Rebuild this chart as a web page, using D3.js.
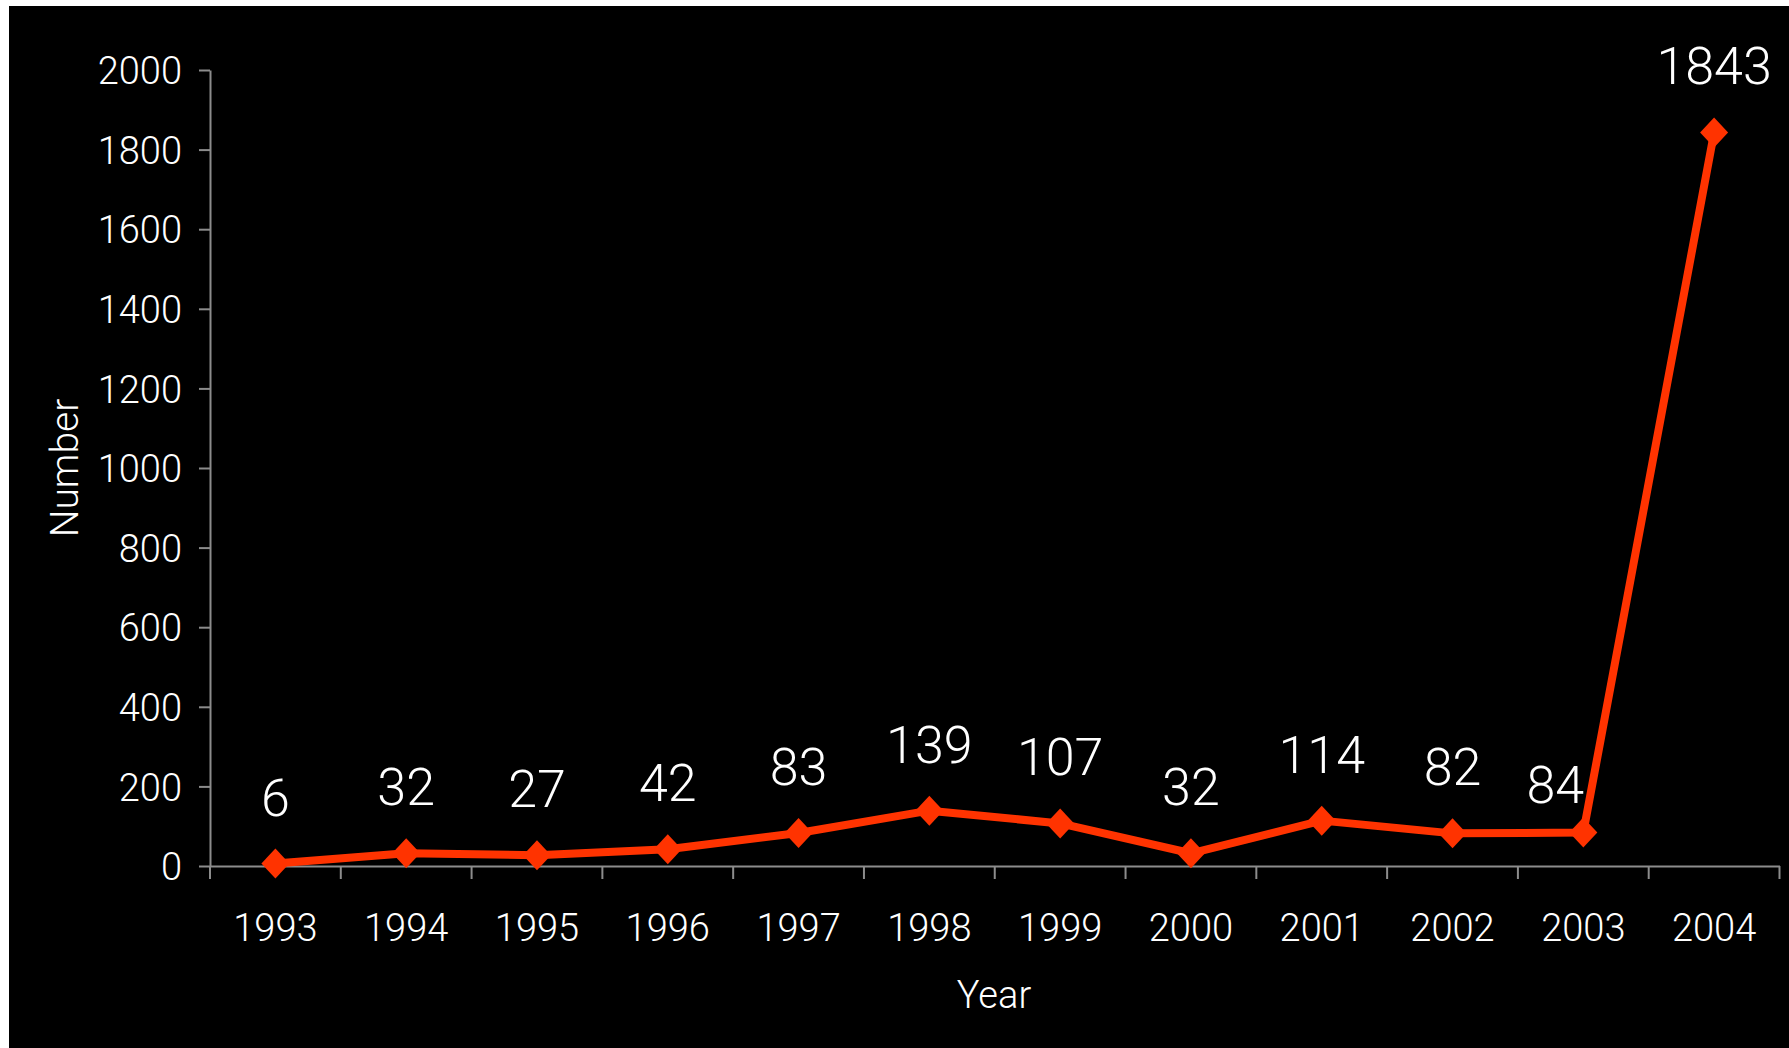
<!DOCTYPE html>
<html>
<head>
<meta charset="utf-8">
<script src="https://cdn.jsdelivr.net/npm/d3@7"></script>
<style>
html,body{margin:0;padding:0;background:#fff;}
svg{display:block;}
text{font-family:Roboto,"Open Sans",sans-serif;font-weight:300;fill:#fff;}
</style>
</head>
<body>
<svg id="chart" width="1789" height="1048"></svg>
<script>
const years = ["1993","1994","1995","1996","1997","1998","1999","2000","2001","2002","2003","2004"];
const values = [6,32,27,42,83,139,107,32,114,82,84,1843];
const yTicks = [0,200,400,600,800,1000,1200,1400,1600,1800,2000];

const FONT = "Roboto";
const svg = d3.select("#chart");
svg.append("rect").attr("x",9).attr("y",6).attr("width",1780).attr("height",1042).attr("fill","#000");

const x = d3.scaleBand().domain(years).range([210,1779.5]);
const y = d3.scaleLinear().domain([0,2000]).range([866,70]);

// y axis
const ya = svg.append("g").attr("transform","translate(210,0)")
  .call(d3.axisLeft(y).tickValues(yTicks).tickFormat(d3.format("d")).tickSize(11).tickSizeOuter(0).tickPadding(17));
ya.select(".domain").attr("stroke","#8c8c8c").attr("stroke-width",2);
ya.selectAll(".tick line").attr("stroke","#8c8c8c").attr("stroke-width",2);
ya.selectAll(".tick text").attr("font-size",38).attr("fill","#fff").attr("font-family",FONT).attr("font-weight",300).attr("dy","0.36em");

// x axis
const xa = svg.append("g").attr("transform","translate(0,866)")
  .call(d3.axisBottom(x).tickSize(0).tickPadding(48));
xa.select(".domain").attr("stroke","#8c8c8c").attr("stroke-width",2);
xa.selectAll(".tick text").attr("font-size",38).attr("fill","#fff").attr("font-family",FONT).attr("font-weight",300);
// category boundary ticks
const bounds = years.map(d=>x(d)).concat([x.range()[1]]);
xa.selectAll(".btick").data(bounds).enter().append("line")
  .attr("x1",d=>d).attr("x2",d=>d).attr("y1",0).attr("y2",13)
  .attr("stroke","#8c8c8c").attr("stroke-width",2);

// line
const cx = d => x(d) + x.bandwidth()/2;
const line = d3.line().x((d,i)=>cx(years[i])).y(d=>y(d));
svg.append("path").datum(values).attr("d",line)
  .attr("fill","none").attr("stroke","#ff3300").attr("stroke-width",8).attr("stroke-linejoin","round");

// markers
svg.selectAll(".mk").data(values).enter().append("path")
  .attr("d","M0,-15L14,0L0,15L-14,0Z")
  .attr("transform",(d,i)=>`translate(${cx(years[i])},${y(d)})`)
  .attr("fill","#ff3300");

// labels (label just before the steep jump is nudged aside, as in the original)
const steep = (i) => i < values.length-1 && (values[i+1] - values[i]) > 1000;
svg.selectAll(".lbl").data(values).enter().append("text")
  .attr("x",(d,i)=>cx(years[i]) - (steep(i) ? 28 : 0))
  .attr("y",(d,i)=>y(d) - (steep(i) ? 30 : 48))
  .attr("text-anchor","middle").attr("font-size",52).text(d=>d);

// axis titles
svg.append("text").attr("transform","translate(78,468) rotate(-90)")
  .attr("text-anchor","middle").attr("font-size",39).text("Number");
svg.append("text").attr("x",994).attr("y",1008)
  .attr("text-anchor","middle").attr("font-size",38).text("Year");
</script>
</body>
</html>
